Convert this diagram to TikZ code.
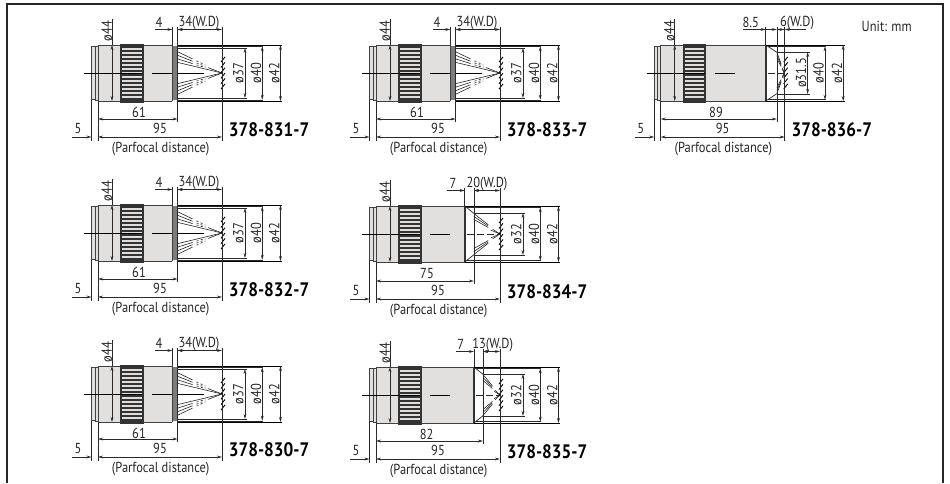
\documentclass[tikz,border=0pt]{standalone}
\usepackage{fontspec}
\setmainfont{PT Sans}[FakeStretch=0.86]
\newfontfamily\partfont{PT Sans Bold}[FakeStretch=0.88]
\usetikzlibrary{arrows.meta,calc}
\definecolor{barrel}{HTML}{E2E0DE}
\definecolor{tipgray}{HTML}{7C7C7C}
\definecolor{knurl}{HTML}{333333}
\definecolor{stripe}{HTML}{E0DEDC}
\definecolor{dimline}{HTML}{2A2A2A}
\tikzset{
  dimtxt/.style={font=\fontsize{14.5}{15}\selectfont,inner sep=0pt,text=black!85},
  parttxt/.style={font=\fontsize{19.5}{20}\partfont,inner sep=0pt,anchor=west,text=black},
  dimln/.style={draw=dimline,line width=0.65pt},
  arr/.style={dimln,{Stealth[length=5pt,width=2.8pt]}-{Stealth[length=5pt,width=2.8pt]}},
  arrend/.style={dimln,-{Stealth[length=5pt,width=2.8pt]}},
  outline/.style={draw=black!75,line width=0.6pt},
  ray/.style={draw=black!85,line width=0.6pt},
}
% type parameters: body end and tip (mm), inner half, labels and text positions
\newcommand\typeA{\def\Lb{57}\def\Lt{61}\def\Li{25}\def\Ll{ø37}\def\Ltl{61}\def\Ltx{41}\def\Lal{4}\def\Lax{61}\def\Lrl{34(W.D)}\def\Lrx{101}\def\Lle{57}\def\Lcone{0}}
\newcommand\typeB{\def\Lb{68}\def\Lt{75}\def\Li{21}\def\Ll{ø32}\def\Ltl{75}\def\Ltx{51}\def\Lal{7}\def\Lax{77}\def\Lrl{20(W.D)}\def\Lrx{111}\def\Lle{70.7}\def\Lcone{1}}
\newcommand\typeC{\def\Lb{75}\def\Lt{82}\def\Li{21}\def\Ll{ø32}\def\Ltl{82}\def\Ltx{50.7}\def\Lal{7}\def\Lax{84.7}\def\Lrl{13(W.D)}\def\Lrx{116.7}\def\Lle{80}\def\Lcone{1}}
\newcommand\typeD{\def\Lb{80.5}\def\Lt{89}\def\Li{21}\def\Ll{ø31.5}\def\Ltl{89}\def\Ltx{55.3}\def\Lal{8.5}\def\Lax{90}\def\Lrl{6(W.D)}\def\Lrx{136.3}\def\Lle{82}\def\Lcone{1}}
% #1 id, #2 x0, #3 yc, #4 part number, #5 y of 95 dimension relative to yc
\newcommand\lens[5]{%
  \pgfmathsetmacro\xz{#2}\pgfmathsetmacro\yc{#3}
  \pgfmathsetmacro\xb{\xz+\Lb*1.305}\pgfmathsetmacro\xt{\xz+\Lt*1.305}\pgfmathsetmacro\xw{\xz+95*1.305}
  \pgfmathsetmacro\yd{\yc+#5}
  \pgfmathsetmacro\ys{\yd-18}
  \pgfmathsetmacro\ytop{\yc-43.5}
  % body
  \fill[barrel] (\xz,\yc-28) rectangle (\xb,\yc+28);
  \draw[outline,fill=barrel] (\xz-6.5,\yc-26.5) rectangle (\xz-3.2,\yc+26.5);
  \draw[outline,fill=black!12] (\xz-3.2,\yc-27) rectangle (\xz,\yc+27);
  \draw[outline] (\xz,\yc+28) -- (\xz,\yc-28) -- (\xb,\yc-28);
  \draw[outline] (\xz,\yc+28) -- (\xb,\yc+28);
  \draw[outline,line width=1pt] (\xz+11,\yc+28.5) -- (\xz+24,\yc+28.5);
  % knurled ring
  \fill[knurl] (\xz+22,\yc-29.5) rectangle (\xz+45.5,\yc+29.5);
  \foreach \k in {-6,...,6}{
    \fill[stripe] (\xz+23.8,\yc+\k*4.05-1.15) rectangle (\xz+43.7,\yc+\k*4.05+1.15);
  }
  % front end
  \ifnum\Lcone=0
    \fill[tipgray] (\xb,\yc-27) rectangle (\xt,\yc+27);
    \draw[outline] (\xb,\yc-28) -- (\xb,\yc+28);
    \draw[draw=black,line width=0.9pt] (\xt,\yc-28) -- (\xw+60,\yc-28);
    \draw[draw=black,line width=0.9pt] (\xt,\yc+28.5) -- (\xw+60,\yc+28.5);
    \draw[dimln] (\xt,\yc-26.7) -- (\xw+41.5,\yc-26.7) (\xt,\yc+27) -- (\xw+41.5,\yc+27);
    \draw[dimln] (\xt,\yc-25) -- (\xw+25,\yc-25) (\xt,\yc+25) -- (\xw+25,\yc+25);
    \foreach \s in {-1,1}{
      \foreach \h in {21,17.5,14}{
        \draw[ray] (\xt+.5,\yc+\s*\h) -- ($(\xt+.5,\yc+\s*\h)!.33!(\xw,\yc)$);
        \draw[ray,dash pattern=on 2pt off 2.5pt] ($(\xt+.5,\yc+\s*\h)!.42!(\xw,\yc)$) -- ($(\xt+.5,\yc+\s*\h)!.62!(\xw,\yc)$);
      }
      \draw[ray] (\xt+.5,\yc+\s*10.5) -- (\xw,\yc);
      \draw[ray] ($(\xt+.5,\yc+\s*17)!.68!(\xw,\yc)$) -- (\xw,\yc);
    }
  \else
    \fill[black!80] (\xb-.8,\yc-28) rectangle (\xb+1.2,\yc+28);
    \draw[draw=black!85,line width=0.7pt] (\xb,\yc-28) -- (\xt,\yc-20.7) (\xb,\yc+28) -- (\xt,\yc+20.7);
    \draw[draw=black,line width=0.8pt] (\xb,\yc-28) -- (\xw+60,\yc-28) (\xb,\yc+28) -- (\xw+60,\yc+28);
    \draw[dimln] (\xb+2,\yc-26.7) -- (\xw+41.5,\yc-26.7) (\xb+2,\yc+26.7) -- (\xw+41.5,\yc+26.7);
    \draw[dimln] (\xt,\yc-21) -- (\xw+25,\yc-21) (\xt,\yc+21) -- (\xw+25,\yc+21);
    \foreach \s in {-1,1}{
      \foreach \h in {20.5,17.5,14.5}{
        \draw[ray] (\xt,\yc+\s*\h) -- ($(\xt,\yc+\s*\h)!.55!(\xw,\yc)$);
      }
      \draw[ray] ($(\xt,\yc+\s*17)!.72!(\xw,\yc)$) -- (\xw,\yc);
      \draw[ray] ($(\xt,\yc+\s*11)!.65!(\xw,\yc)$) -- (\xw,\yc);
    }
    \draw[ray,dash pattern=on 7pt off 3pt] (\xb+2,\yc) -- (\xw,\yc);
  \fi
  % hatching of the focal plane
  \foreach \k in {-2.5,-1.5,...,2.5}{
    \draw[draw=black,line width=0.9pt] (\xw-1,\yc+\k*5.4+2.6) -- (\xw+3,\yc+\k*5.4-2.6);
  }
  % centre line
  \draw[draw=black,line width=0.7pt] (\xz-14,\yc) -- (\xz+44,\yc) (\xz+54,\yc) -- (\xz+74,\yc);
  \ifnum\Lcone=0
    \draw[draw=black,line width=0.7pt] (\xt,\yc) -- (\xt+26,\yc);
  \fi
  % extension lines
  \draw[dimln] (\xz-6.5,\yc+27) -- (\xz-6.5,\yd+3.5);
  \draw[dimln] (\xz,\yc+28) -- (\xz,\yd+3.5);
  \draw[dimln] (\xb,\ytop-3) -- (\xb,\yc-28);
  \draw[dimln] (\xt,\ytop-3) -- (\xt,\ys+2.5);
  \draw[dimln] (\xw,\ytop-3) -- (\xw,\yd+3.5);
  % top dimensions
  \draw[arrend] (\xz+\Lle,\ytop) -- (\xb,\ytop);
  \ifdim\Lt pt=89pt
    \draw[arrend] (\xt+8,\ytop) -- (\xt,\ytop);
    \draw[arrend] (\xw+21,\ytop) -- (\xw,\ytop);
    \draw[arrend] (\xb-.1,\ytop) -- (\xt,\ytop);
  \else
    \draw[arr] (\xt,\ytop) -- (\xw,\ytop);
    \draw[arrend] (\xt+5,\ytop) -- (\xt,\ytop);
  \fi
  \node[dimtxt] (#1a) at (\xz+\Lax,\yc-50.5) {\Lal};
  \node[dimtxt] (#1w) at (\xz+\Lrx,\yc-50.5) {\Lrl};
  % lower dimensions
  \draw[arr] (\xz,\ys) -- (\xt,\ys);
  \draw[arr] (\xz,\yd) -- (\xw,\yd);
  \draw[arrend] (\xz-26,\yd) -- (\xz-6.5,\yd);
  \node[dimtxt] (#1t) at (\xz+\Ltx,\yc+39.5) {\Ltl};
  \node[dimtxt] (#1n) at (\xz+62,\yd-8.5) {95};
  \node[dimtxt] (#1f) at (\xz-20,\yd-8.5) {5};
  \node[dimtxt] (#1p) at (\xz+62.7,\yd+11.5) {(Parfocal distance)};
  % diameter dimensions
  \draw[dimln] (\xz+14,\yc-54) -- (\xz+14,\yc-28);
  \draw[arr] (\xz+14,\yc-28) -- (\xz+14,\yc+28);
  \node[dimtxt,rotate=90] (#1d) at (\xz+8.7,\yc-42) {ø44};
  \draw[arr] (\xw+23,\yc-\Li) -- (\xw+23,\yc+\Li);
  \draw[arr] (\xw+40.3,\yc-26.7) -- (\xw+40.3,\yc+26.7);
  \draw[arr] (\xw+58.5,\yc-28) -- (\xw+58.5,\yc+28);
  \node[dimtxt,rotate=90] (#1i) at (\xw+16.3,\yc) {\Ll};
  \node[dimtxt,rotate=90] (#1j) at (\xw+34,\yc) {ø40};
  \node[dimtxt,rotate=90] (#1k) at (\xw+52.3,\yc) {ø42};
  % part number
  \node[parttxt] (#1m) at (\xw+6.7,\yd-7) {#4};
}
\begin{document}
\begin{tikzpicture}[x=1pt,y=-1pt]
\useasboundingbox (0,0) rectangle (950,483);
\draw[draw=black!85,line width=1.3pt] (7,483) -- (7,4) -- (943,4) -- (943,483);
\typeA
\lens{a}{98}{73}{378-831-7}{64}
\lens{b}{376}{73}{378-833-7}{64}
\lens{c}{98}{233}{378-832-7}{64}
\lens{d}{98}{394}{378-830-7}{63}
\typeB
\lens{e}{376}{234}{378-834-7}{65}
\typeC
\lens{f}{376}{395}{378-835-7}{64}
\typeD
\lens{g}{660.7}{73}{378-836-7}{64}
\node[dimtxt] (unit) at (886.7,26) {Unit: mm};
\end{tikzpicture}
\end{document}
